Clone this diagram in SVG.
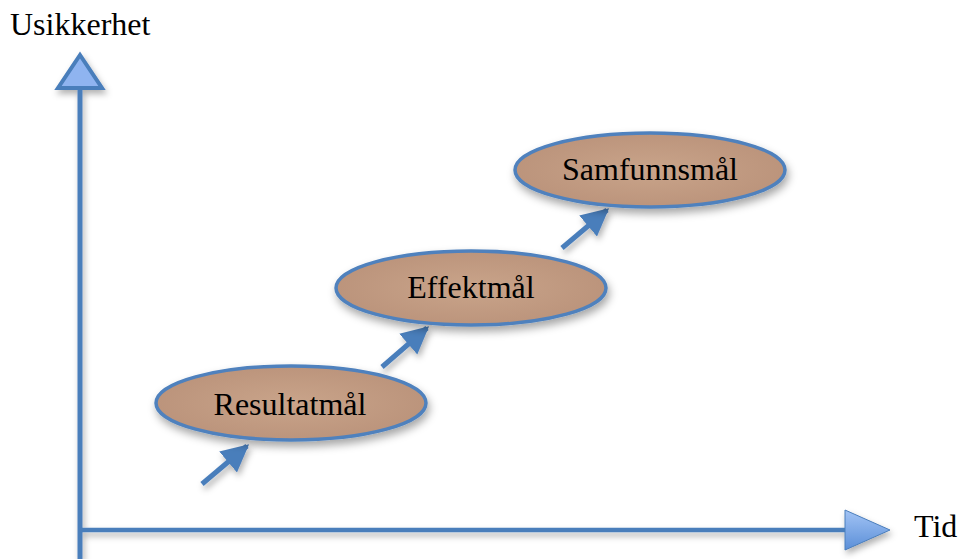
<svg xmlns="http://www.w3.org/2000/svg" width="962" height="559" viewBox="0 0 962 559">
<style>
.lbl{font-family:"Liberation Serif","Times New Roman",serif;font-size:32px;fill:#000}
.node ellipse{fill:url(#eg);stroke:#4f81bd;stroke-width:3.5;filter:url(#sh)}
.ax{stroke:#4a7ebb;stroke-width:5;fill:none}
.con{stroke:#4a7ebb;stroke-width:5;fill:none;marker-end:url(#ah)}
</style>
<defs>
<radialGradient id="eg" cx="0.5" cy="0.5" r="0.6">
<stop offset="0" stop-color="#c9a48a"/>
<stop offset="1" stop-color="#b99179"/>
</radialGradient>
<linearGradient id="tg" x1="0" y1="0" x2="0" y2="1">
<stop offset="0" stop-color="#a3c4f5"/>
<stop offset="1" stop-color="#5b8fd8"/>
</linearGradient>
<filter id="sh" x="-20%" y="-30%" width="140%" height="170%">
<feDropShadow dx="2" dy="5" stdDeviation="4" flood-color="#000" flood-opacity="0.35"/>
</filter>
<filter id="sh2" x="-30%" y="-30%" width="160%" height="160%">
<feDropShadow dx="2" dy="4" stdDeviation="3" flood-color="#000" flood-opacity="0.3"/>
</filter>
<marker id="ah" viewBox="0 0 10 10" refX="9" refY="5" markerWidth="5.5" markerHeight="6.2" orient="auto" markerUnits="strokeWidth">
<path d="M0,0 L10,5 L0,10 Z" fill="#4a7ebb"/>
</marker>
</defs>
<g id="axes" filter="url(#sh2)">
<line class="ax" x1="80" y1="88" x2="80" y2="559"/>
<polygon points="80,55 58,88 102,88" fill="#8fb4f0" stroke="#4a7ebb" stroke-width="4" stroke-linejoin="miter"/>
<line x1="80" y1="530" x2="848" y2="530" stroke="#4a7ebb" stroke-width="4.5"/>
<polygon points="845,510 890,530 845,550" fill="url(#tg)" stroke="#4a7ebb" stroke-width="1"/>
</g>
<text class="lbl" x="10" y="35">Usikkerhet</text>
<text class="lbl" x="914" y="537">Tid</text>
<g id="connectors" filter="url(#sh2)">
<line class="con" x1="202" y1="484" x2="247" y2="446"/>
<line class="con" x1="382" y1="367" x2="427" y2="328"/>
<line class="con" x1="562" y1="248" x2="607" y2="210"/>
</g>
<g id="resultatmal" class="node">
<ellipse cx="291" cy="403" rx="135" ry="37"/>
<text class="lbl" x="290" y="415" text-anchor="middle">Resultatmål</text>
</g>
<g id="effektmal" class="node">
<ellipse cx="471" cy="288" rx="135" ry="37"/>
<text class="lbl" x="471" y="298" text-anchor="middle">Effektmål</text>
</g>
<g id="samfunnsmal" class="node">
<ellipse cx="650" cy="170" rx="135" ry="37"/>
<text class="lbl" x="650" y="180" text-anchor="middle">Samfunnsmål</text>
</g>
</svg>
